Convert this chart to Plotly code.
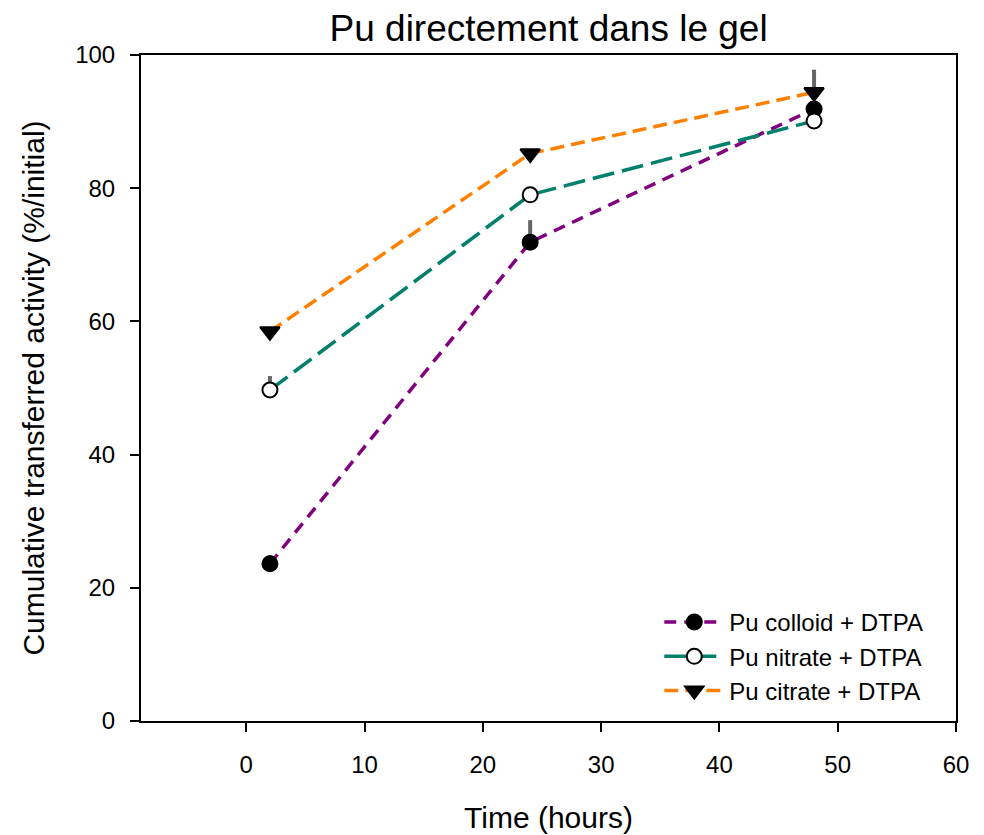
import plotly.graph_objects as go

hours = [2, 24, 48]
colloid = [23.6, 71.9, 91.9]
colloid_err = [1.3, 3.3, 0.0]
nitrate = [49.7, 79.0, 90.1]
nitrate_err = [2.1, 0.0, 0.0]
citrate = [58.5, 85.2, 94.4]
citrate_err = [0.0, 0.0, 3.4]

x_ticks = [0, 10, 20, 30, 40, 50, 60]
y_ticks = [0, 20, 40, 60, 80, 100]

FONT = "Liberation Sans, Arial, sans-serif"

fig = go.Figure()

def add(name, y, err, color, dash, symbol, fill):
    fig.add_trace(go.Scatter(
        x=hours, y=y, name=name, mode="lines+markers",
        line=dict(color=color, width=3.5, dash=dash),
        marker=dict(symbol=symbol, size=15 if symbol != "triangle-down" else 17,
                    color=fill, line=dict(color="black", width=2)),
        error_y=dict(type="data", symmetric=False, array=err,
                     arrayminus=[0] * len(err), color="#666666",
                     thickness=4, width=0),
    ))

add("Pu colloid + DTPA", colloid, colloid_err, "#800080", "12px,8px", "circle", "black")
add("Pu nitrate + DTPA", nitrate, nitrate_err, "#00806B", "22px,8px", "circle", "white")
add("Pu citrate + DTPA", citrate, citrate_err, "#FF8000", "14px,7px", "triangle-down", "black")

fig.update_layout(
    width=984, height=835,
    margin=dict(l=141, r=28, t=55, b=114),
    paper_bgcolor="white", plot_bgcolor="white",
    font=dict(family=FONT, color="black"),
    title=dict(text="Pu directement dans le gel", x=0.5575, xanchor="center",
               y=0.966, yanchor="middle", font=dict(size=37)),
    xaxis=dict(range=[-8.9, 60], tickvals=x_ticks, showgrid=False, zeroline=False,
               showline=True, linecolor="black", linewidth=2, mirror=True,
               ticks="outside", ticklen=9, tickwidth=2, tickcolor="black",
               tickfont=dict(size=24), ticklabelstandoff=12, automargin=False,
               title=dict(text="Time (hours)", font=dict(size=30), standoff=30)),
    yaxis=dict(range=[0, 100], tickvals=y_ticks, showgrid=False, zeroline=False,
               showline=True, linecolor="black", linewidth=2, mirror=True,
               ticks="outside", ticklen=9, tickwidth=2, tickcolor="black",
               tickfont=dict(size=24), ticklabelstandoff=10, automargin=False,
               title=dict(text="Cumulative transferred activity (%/initial)",
                          font=dict(size=30), standoff=22)),
    legend=dict(x=0.966, xanchor="right", y=0.012, yanchor="bottom",
                bgcolor="rgba(0,0,0,0)", font=dict(size=24), tracegroupgap=0,
                itemwidth=60),
    showlegend=True,
)

fig.write_html("out.html")
